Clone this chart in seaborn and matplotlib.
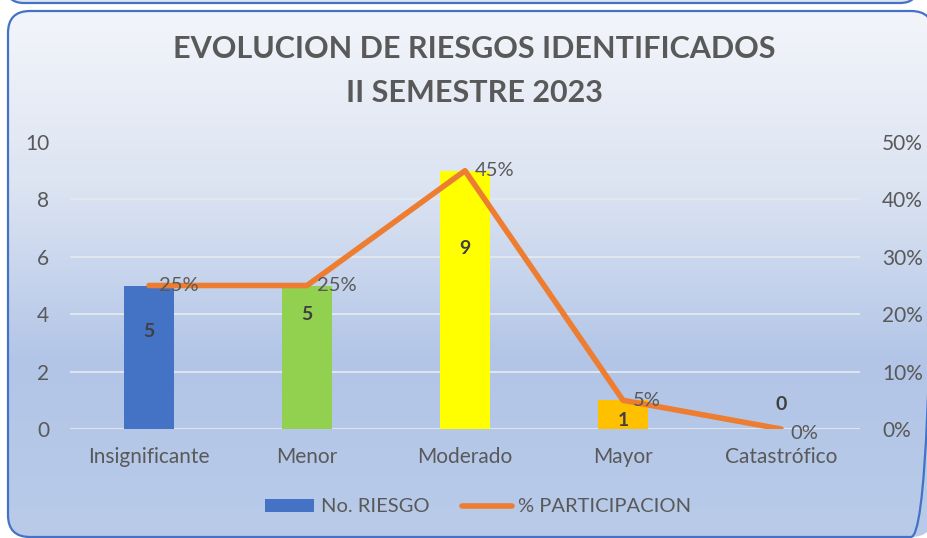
import numpy as np
import pandas as pd
import matplotlib
matplotlib.use("Agg")
import matplotlib.pyplot as plt
from matplotlib.patches import FancyBboxPatch, Patch
from matplotlib.lines import Line2D
from matplotlib.colors import LinearSegmentedColormap
import seaborn as sns

# Risk levels and counts for the second semester of 2023
categories = ["Insignificante", "Menor", "Moderado", "Mayor", "Catastrófico"]
riesgos = [5, 5, 9, 1, 0]
participacion = [25, 25, 45, 5, 0]  # percent of total
bar_colors = ["#4472C4", "#92D050", "#FFFF00", "#FFC000", "#A5A5A5"]
left_ticks = [0, 2, 4, 6, 8, 10]
right_ticks = [0, 10, 20, 30, 40, 50]

# where the count labels sit inside each column (axis units)
count_label_y = [3.4, 4.0, 6.3, 0.3, 0.85]

sns.set_theme(style="white")
plt.rcParams["font.family"] = ["Lato", "DejaVu Sans"]

W, H = 9.27, 5.38
fig = plt.figure(figsize=(W, H), dpi=100)

# gradient backdrop with rounded frame
bg = fig.add_axes([0, 0, 1, 1], zorder=-10)
bg.set_xlim(0, 927)
bg.set_ylim(538, 0)
bg.axis("off")
cmap = LinearSegmentedColormap.from_list("bgfill", ["#F3F5FA", "#DCE4F2", "#B2C5E7", "#B9CBE9"])
grad = np.linspace(0, 1, 256).reshape(-1, 1)
box = FancyBboxPatch((8, 11), 925, 526, boxstyle="round,pad=0,rounding_size=22",
                     facecolor="none", edgecolor="#4472C4", linewidth=1.6)
img = bg.imshow(grad, extent=[8, 933, 537, 11], cmap=cmap, aspect="auto", zorder=0)
bg.add_patch(box)
img.set_clip_path(box)
top_box = FancyBboxPatch((6, -60), 912, 63, boxstyle="round,pad=0,rounding_size=18",
                         facecolor="#DDE5F3", edgecolor="#4472C4", linewidth=1.6)
bg.add_patch(top_box)

fig.text(474 / 927, 1 - 49 / 538, "EVOLUCION DE RIESGOS IDENTIFICADOS",
         ha="center", va="center", fontsize=22, fontweight="bold", color="#595959")
fig.text(474 / 927, 1 - 93 / 538, "II SEMESTRE 2023",
         ha="center", va="center", fontsize=22, fontweight="bold", color="#595959")

ax = fig.add_axes([70 / 927, 109 / 538, 790 / 927, 287 / 538])
ax.patch.set_alpha(0)

df = pd.DataFrame({"cat": categories, "n": riesgos})
sns.barplot(data=df, x="cat", y="n", hue="cat", palette=bar_colors, width=0.32,
            legend=False, ax=ax, saturation=1, linewidth=0, zorder=3)
ax.set_ylim(0, 10)
ax.set_xlim(-0.5, 4.5)
ax.set_yticks(left_ticks)
ax.grid(axis="y", color="#E4E8EF", linewidth=1.3, zorder=0)
ax.set_axisbelow(True)
for s in ax.spines.values():
    s.set_visible(False)
ax.set_xlabel("")
ax.set_ylabel("")
ax.tick_params(axis="y", length=0, pad=15, labelsize=15, labelcolor="#595959")
ax.tick_params(axis="x", length=0, pad=13, labelsize=15, labelcolor="#595959")

for i, (v, ly) in enumerate(zip(riesgos, count_label_y)):
    ax.text(i, ly, f"{v}", ha="center", va="center", fontsize=14,
            fontweight="bold", color="#404040", zorder=6)

ax2 = ax.twinx()
sns.lineplot(x=np.arange(len(categories)), y=participacion, ax=ax2,
             color="#ED7D31", linewidth=4, zorder=5)
ax2.set_ylim(0, 50)
ax2.set_yticks(right_ticks)
ax2.set_yticklabels([f"{t}%" for t in right_ticks])
ax2.tick_params(axis="y", length=0, pad=16, labelsize=15, labelcolor="#595959")
ax2.grid(False)
for s in ax2.spines.values():
    s.set_visible(False)
ax2.set_ylabel("")

for i, p in enumerate(participacion):
    dy = -3 if p == 0 else 0
    ax2.annotate(f"{p}%", (i, p), xytext=(7, dy), textcoords="offset points",
                 ha="left", va="center", fontsize=14.5, color="#595959", zorder=6)

handles = [Patch(facecolor="#4472C4", edgecolor="none"),
           Line2D([0], [0], color="#ED7D31", linewidth=4)]
fig.legend(handles, ["No. RIESGO", "% PARTICIPACION"], loc="center",
           bbox_to_anchor=(478 / 927, 1 - 507 / 538), ncol=2, frameon=False,
           fontsize=14.5, labelcolor="#595959", handlelength=2.45, handleheight=0.6,
           columnspacing=1.65, handletextpad=0.3)

fig.savefig("out.png", dpi=100)
